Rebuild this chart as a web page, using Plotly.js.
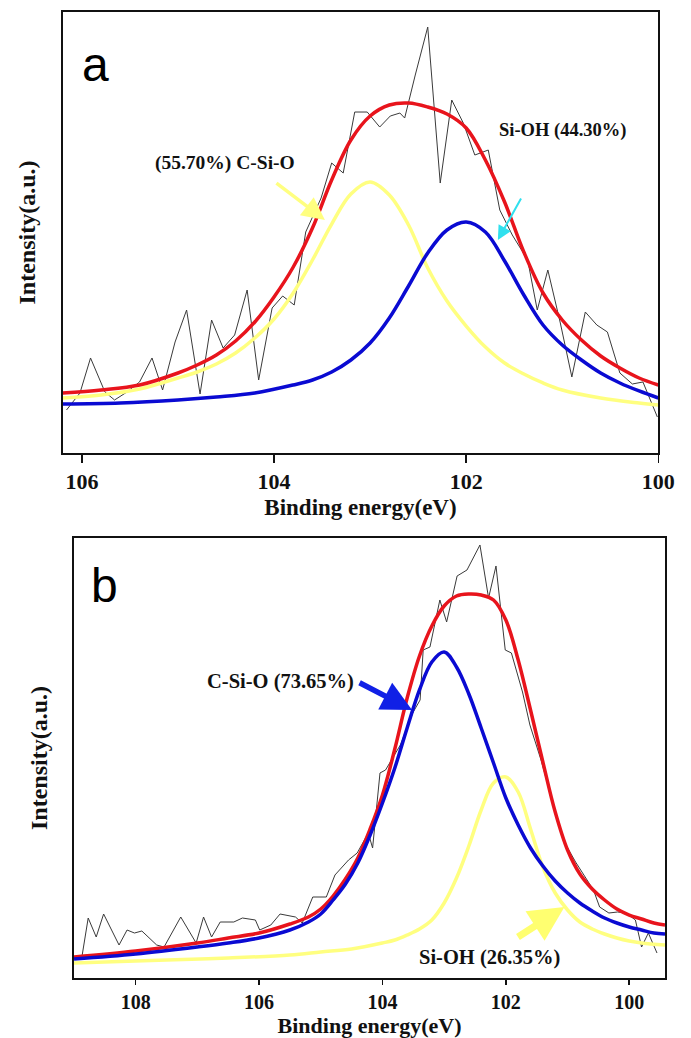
<!DOCTYPE html>
<html>
<head>
<meta charset="utf-8">
<script src="https://cdn.plot.ly/plotly-3.0.1.min.js"></script>
<style>html,body{margin:0;padding:0;background:#fff;}#chart{width:691px;height:1038px;}</style>
</head>
<body>
<div id="chart"></div>
<script>
// ---------- Panel a : raw spectrum ----------
const aRawE = [106.16,106.02,105.91,105.76,105.66,105.53,105.40,105.27,105.16,105.03,104.91,104.77,104.65,104.53,104.41,104.28,104.16,104.02,103.91,103.79,103.67,103.51,103.40,103.28,103.16,103.03,102.90,102.79,102.69,102.64,102.53,102.40,102.27,102.15,102.03,101.91,101.77,101.65,101.52,101.36,101.26,101.15,101.02,100.90,100.76,100.64,100.53,100.40,100.27,100.16,100.01];
const aRawI = [43,60,95,61,53,61,71,95,63,111,143,59,133,105,118,163,73,145,157,148,221,255,290,280,341,341,326,337,340,335,378,426,270,353,330,298,303,243,218,193,143,183,130,76,141,128,121,80,69,71,36];
// Panel a : envelope (sum of fit)
const aEnvE = [106.2,105.8,105.4,105.0,104.8,104.6,104.4,104.2,104.0,103.8,103.6,103.4,103.2,103.0,102.8,102.6,102.4,102.2,102.0,101.8,101.6,101.4,101.2,101.0,100.8,100.6,100.4,100.2,100.0];
const aEnvI = [60,63,68,80,88,98,112,131,156,186,225,273,313,337,348,350,346,339,325,293,251,201,160,133,113,97,85,75,68];
// Panel a : C-Si-O component
const aCSiOE = [106.2,105.8,105.4,105.0,104.8,104.6,104.4,104.2,104.0,103.8,103.6,103.4,103.2,103.0,102.8,102.6,102.4,102.2,102.0,101.8,101.6,101.4,101.2,101.0,100.6,100.2,100.0];
const aCSiOI = [55,58,64,75,81,89,100,115,134,160,193,229,259,271,258,228,185,152,127,106,90,79,70,63,55,50,48];
// Panel a : Si-OH component
const aSiOHE = [106.2,105.6,105.0,104.6,104.2,103.8,103.6,103.4,103.2,103.0,102.8,102.6,102.4,102.2,102.0,101.8,101.6,101.4,101.2,101.0,100.8,100.6,100.4,100.2,100.0];
const aSiOHI = [49,50,53,56,60,68,73,81,93,110,135,167,200,223,231,221,192,158,128,108,93,80,70,62,55];

// ---------- Panel b : raw spectrum ----------
const bRawE = [108.88,108.77,108.64,108.52,108.27,108.14,108.02,107.90,107.66,107.54,107.27,107.02,106.90,106.77,106.63,106.41,106.27,106.06,105.99,105.81,105.66,105.41,105.30,105.13,104.91,104.77,104.55,104.41,104.23,104.16,104.04,103.95,103.71,103.51,103.39,103.34,103.23,103.07,102.96,102.79,102.63,102.42,102.28,102.16,102.01,101.91,101.73,101.61,101.43,101.25,101.07,100.87,100.68,100.58,100.48,100.33,100.19,100.05,99.90,99.80,99.69,99.55];
const bRawI = [18,60,41,64,33,48,45,47,33,31,61,35,61,41,56,56,60,58,48,53,64,61,55,81,81,103,118,125,145,130,205,208,233,265,278,328,331,378,356,402,408,433,380,412,328,325,286,253,218,178,138,116,98,88,71,65,66,65,58,31,45,25];
// Panel b : envelope
const bEnvE = [109.0,108.0,107.0,106.5,106.0,105.5,105.2,105.0,104.8,104.6,104.4,104.2,104.0,103.8,103.6,103.4,103.2,103.0,102.8,102.6,102.4,102.2,102.0,101.8,101.6,101.4,101.2,101.0,100.8,100.6,100.4,100.2,100.0,99.8,99.6,99.42];
const bEnvI = [21,27,35,40,45,54,61,69,82,99,120,149,183,229,280,322,352,372,382,384,383,378,358,318,268,216,166,128,104,89,78,69,63,59,55,53];
// Panel b : C-Si-O component
const bCSiOE = [109.0,108.0,107.0,106.5,106.0,105.5,105.2,105.0,104.8,104.6,104.4,104.2,104.0,103.8,103.6,103.4,103.2,103.0,102.8,102.6,102.4,102.2,102.0,101.8,101.6,101.4,101.2,101.0,100.8,100.6,100.4,100.2,100.0,99.8,99.6,99.42];
const bCSiOI = [19,24,31,35,40,48,56,64,78,94,115,143,175,210,250,288,316,326,311,284,250,215,180,153,130,112,97,85,75,67,60,55,51,48,45,44];
// Panel b : Si-OH component
const bSiOHE = [109.0,107.5,106.5,105.5,105.0,104.5,104.0,103.8,103.6,103.4,103.2,103.0,102.8,102.6,102.4,102.2,102.0,101.8,101.6,101.4,101.2,101.0,100.8,100.6,100.4,100.2,100.0,99.8,99.42];
const bSiOHI = [15,18,20,23,26,29,35,38,43,49,58,75,100,132,168,195,201,186,149,111,85,68,56,49,44,40,37,35,33];

const xTicksA = [106,104,102,100];
const xTicksB = [108,106,104,102,100];

const RED = '#e8141c', BLUE = '#0a0ad2', YEL = '#ffff80', GRAY = '#3a3a3a';
const serif = 'Liberation Serif, Times New Roman, serif';

const traces = [
  {x:aRawE, y:aRawI, xaxis:'x', yaxis:'y', mode:'lines', line:{color:GRAY, width:1}, name:'raw a'},
  {x:aCSiOE, y:aCSiOI, xaxis:'x', yaxis:'y', mode:'lines', line:{color:YEL, width:3.5, shape:'spline', smoothing:1}, name:'C-Si-O a'},
  {x:aSiOHE, y:aSiOHI, xaxis:'x', yaxis:'y', mode:'lines', line:{color:BLUE, width:3.5, shape:'spline', smoothing:1}, name:'Si-OH a'},
  {x:aEnvE, y:aEnvI, xaxis:'x', yaxis:'y', mode:'lines', line:{color:RED, width:3.5, shape:'spline', smoothing:1}, name:'envelope a'},
  {x:bRawE, y:bRawI, xaxis:'x2', yaxis:'y2', mode:'lines', line:{color:GRAY, width:1}, name:'raw b'},
  {x:bSiOHE, y:bSiOHI, xaxis:'x2', yaxis:'y2', mode:'lines', line:{color:YEL, width:3.5, shape:'spline', smoothing:1}, name:'Si-OH b'},
  {x:bEnvE, y:bEnvI, xaxis:'x2', yaxis:'y2', mode:'lines', line:{color:RED, width:3.5, shape:'spline', smoothing:1}, name:'envelope b'},
  {x:bCSiOE, y:bCSiOI, xaxis:'x2', yaxis:'y2', mode:'lines', line:{color:BLUE, width:3.5, shape:'spline', smoothing:1}, name:'C-Si-O b'}
];

function xAxis(domain, range, ticks, standoff, tfs, ttl, tlen){
  return {domain:domain, range:range, tickmode:'array', tickvals:ticks, ticktext:ticks.map(String),
    ticks:'outside', ticklen:tlen, tickwidth:1.5, tickcolor:'#111',
    showline:true, mirror:true, linecolor:'#111', linewidth:2, showgrid:false, zeroline:false,
    tickfont:{family:serif, size:tfs, weight:'bold', color:'#111'},
    title:{text:'Binding energy(eV)', font:{family:serif, size:ttl, weight:'bold', color:'#111'}, standoff:standoff},
    automargin:false};
}
function yAxis(domain, range, anchor, standoff){
  return {domain:domain, range:range, anchor:anchor, showticklabels:false, ticks:'',
    showline:true, mirror:true, linecolor:'#111', linewidth:2, showgrid:false, zeroline:false,
    title:{text:'Intensity(a.u.)', font:{family:serif, size:24, weight:'bold', color:'#111'}, standoff:standoff},
    automargin:false};
}

const lblFont = (s)=>({family:serif, size:s, weight:'bold', color:'#111'});

const layout = {
  width:691, height:1038, margin:{l:0, r:0, t:0, b:0},
  paper_bgcolor:'#fff', plot_bgcolor:'#fff', showlegend:false,
  xaxis: Object.assign(xAxis([0.0907,0.9527],[106.2,100],xTicksA,6,22,23,8),{anchor:'y'}),
  yaxis: yAxis([0.5636,0.9884],[0,441],'x',18),
  xaxis2: Object.assign(xAxis([0.1071,0.9624],[109.0,99.42],xTicksB,4,20,22,5),{anchor:'y2'}),
  yaxis2: yAxis([0.0578,0.4817],[0,440],'x2',18),
  annotations:[
    {xref:'paper', yref:'paper', x:0.1385, y:0.9374, text:'a', showarrow:false, xanchor:'center', yanchor:'middle', font:{family:'Liberation Sans, Arial, sans-serif', size:48, color:'#000'}},
    {xref:'paper', yref:'paper', x:0.1515, y:0.4364, text:'b', showarrow:false, xanchor:'center', yanchor:'middle', font:{family:'Liberation Sans, Arial, sans-serif', size:48, color:'#000'}},
    {xref:'x', yref:'y', x:104.51, y:290, text:'(55.70%) C-Si-O', showarrow:false, font:lblFont(19.5)},
    {xref:'x', yref:'y', x:101.0, y:323, text:'Si-OH (44.30%)', showarrow:false, font:lblFont(18.5)},
    {xref:'x2', yref:'y2', x:105.65, y:296, text:'C-Si-O (73.65%)', showarrow:false, font:lblFont(20.5)},
    {xref:'x2', yref:'y2', x:102.26, y:21, text:'Si-OH (26.35%)', showarrow:false, font:lblFont(20.5)},
    // arrows
    {xref:'x', yref:'y', x:103.47, y:233, ax:-50, ay:-38, text:'', showarrow:true, arrowhead:2, arrowsize:1.3, arrowwidth:3.5, arrowcolor:YEL},
    {xref:'x', yref:'y', x:101.67, y:213, ax:24, ay:-43, text:'', showarrow:true, arrowhead:2, arrowsize:1.4, arrowwidth:2, arrowcolor:'#30e0ee'},
    {xref:'x2', yref:'y2', x:103.52, y:268, ax:-54, ay:-28, text:'', showarrow:true, arrowhead:2, arrowsize:1.1, arrowwidth:5.5, arrowcolor:'#1020e6'},
    {xref:'x2', yref:'y2', x:101.05, y:71, ax:-48, ay:31, text:'', showarrow:true, arrowhead:2, arrowsize:1.0, arrowwidth:7, arrowcolor:'#ffff70'}
  ]
};

Plotly.newPlot('chart', traces, layout, {staticPlot:true, displayModeBar:false});
</script>
</body>
</html>
